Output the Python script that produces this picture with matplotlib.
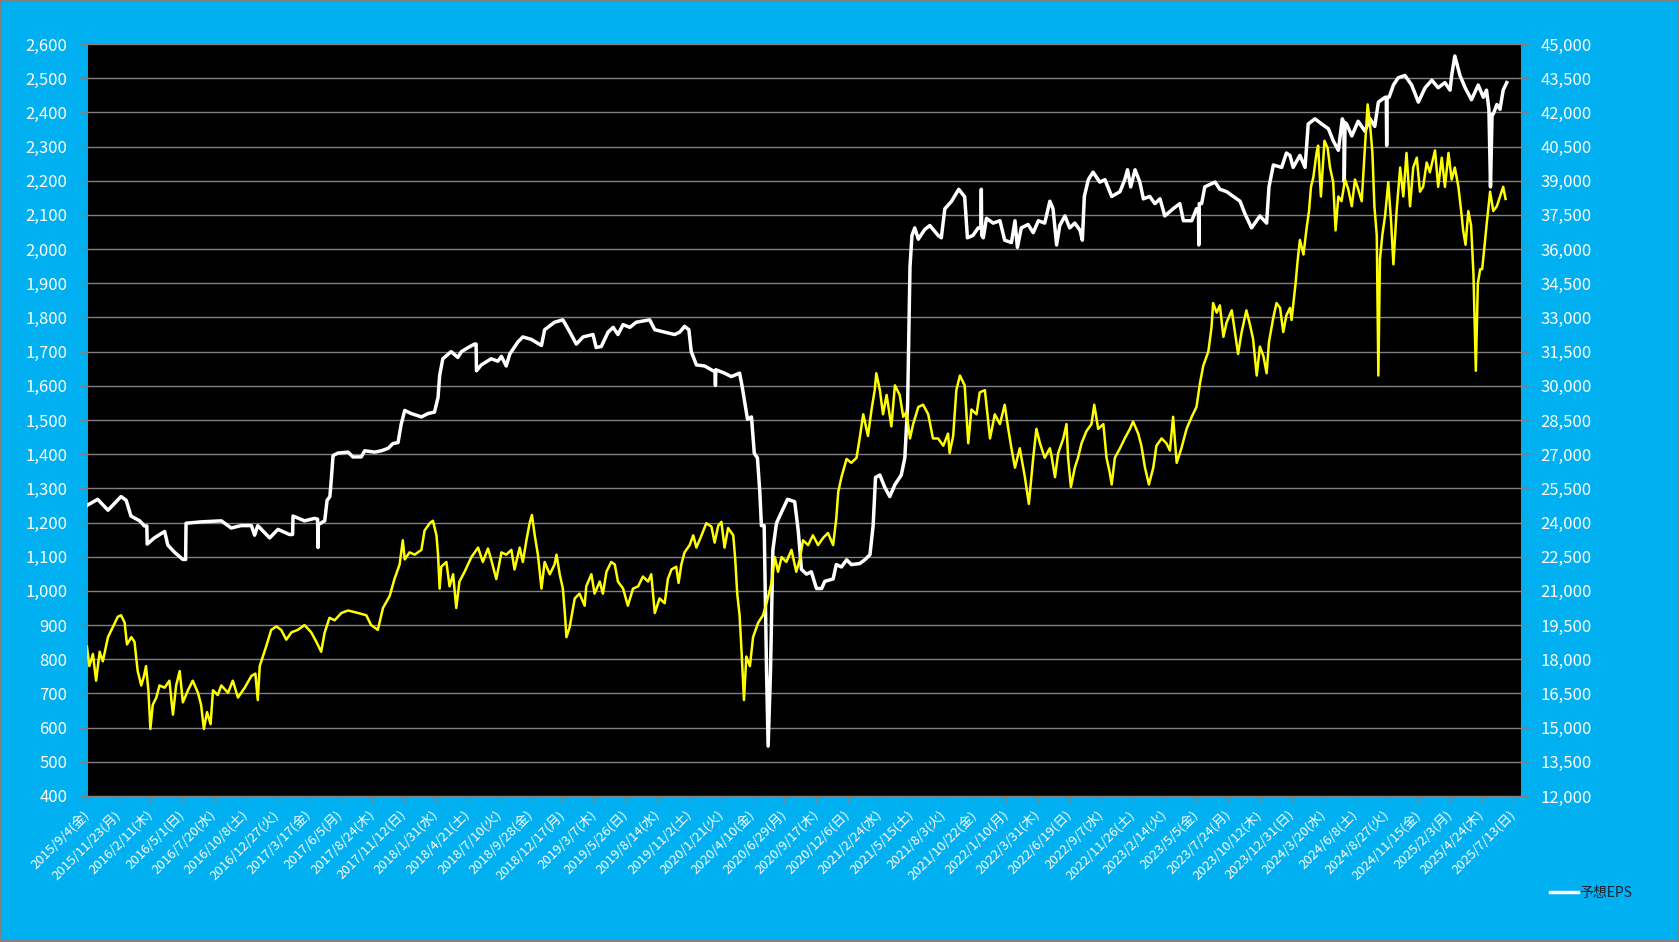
import numpy as np
import pandas as pd
import matplotlib
matplotlib.use("Agg")
import matplotlib.pyplot as plt
from matplotlib.ticker import FuncFormatter, MultipleLocator
from matplotlib.lines import Line2D

plt.rcParams['font.family'] = ['Noto Sans CJK JP', 'DejaVu Sans']

START = pd.Timestamp('2015-09-04')
WEEKDAYS = '月火水木金土日'

# (days since 2015/9/4, forecast EPS) - left axis
eps = [
    (0, 1250), (27, 1268), (53, 1236), (86, 1276), (99, 1265), (111, 1219),
    (133, 1205), (145, 1190), (151, 1190), (152, 1137), (170, 1155), (196, 1174),
    (204, 1134), (221, 1113), (242, 1092), (249, 1092), (250, 1198), (288, 1202),
    (339, 1205), (364, 1184), (389, 1191), (415, 1191), (423, 1163), (431, 1191),
    (461, 1155), (482, 1180), (511, 1165), (519, 1165), (520, 1219), (549, 1205),
    (574, 1212), (582, 1210), (583, 1127), (584, 1194), (600, 1205), (606, 1265),
    (613, 1276), (617, 1332), (621, 1396), (633, 1403), (659, 1406), (671, 1392),
    (692, 1392), (701, 1410), (726, 1406), (743, 1410), (760, 1417), (772, 1431),
    (785, 1434), (793, 1488), (802, 1528), (818, 1519), (844, 1509), (861, 1519),
    (877, 1523), (886, 1566), (890, 1630), (898, 1679), (919, 1700), (936, 1683),
    (945, 1700), (962, 1712), (978, 1722), (982, 1722), (983, 1644), (995, 1661),
    (1020, 1679), (1037, 1672), (1046, 1686), (1058, 1658), (1067, 1693), (1088, 1729),
    (1100, 1743), (1121, 1736), (1147, 1718), (1155, 1764), (1180, 1786), (1201, 1793),
    (1210, 1775), (1222, 1750), (1235, 1722), (1252, 1743), (1277, 1750), (1285, 1712),
    (1298, 1715), (1315, 1757), (1328, 1771), (1340, 1750), (1353, 1779), (1370, 1771),
    (1386, 1786), (1420, 1793), (1433, 1764), (1458, 1757), (1483, 1750), (1496, 1757),
    (1508, 1774), (1519, 1764), (1525, 1700), (1538, 1661), (1559, 1658), (1580, 1644),
    (1585, 1644), (1586, 1601), (1587, 1647), (1609, 1637), (1626, 1627), (1647, 1637),
    (1653, 1601), (1660, 1552), (1667, 1502), (1677, 1509), (1684, 1403), (1692, 1389),
    (1698, 1290), (1702, 1191), (1709, 1191), (1715, 766), (1719, 546), (1725, 766),
    (1731, 1120), (1740, 1198), (1751, 1226), (1768, 1268), (1786, 1261), (1795, 1176),
    (1803, 1063), (1816, 1049), (1828, 1056), (1841, 1007), (1854, 1007), (1862, 1028),
    (1883, 1035), (1891, 1077), (1904, 1070), (1917, 1091), (1929, 1077), (1950, 1080),
    (1963, 1091), (1976, 1106), (1984, 1191), (1990, 1332), (2001, 1339), (2013, 1304),
    (2026, 1276), (2039, 1311), (2055, 1339), (2064, 1389), (2071, 1544), (2077, 1948),
    (2082, 2040), (2089, 2062), (2098, 2029), (2114, 2057), (2127, 2069), (2148, 2040),
    (2156, 2033), (2165, 2118), (2182, 2140), (2200, 2175), (2215, 2153), (2222, 2033),
    (2236, 2040), (2249, 2062), (2256, 2062), (2257, 2175), (2258, 2040), (2262, 2033),
    (2270, 2090), (2287, 2076), (2304, 2083), (2316, 2026), (2333, 2019), (2342, 2083),
    (2348, 2005), (2358, 2062), (2375, 2072), (2388, 2048), (2401, 2083), (2417, 2076),
    (2430, 2140), (2438, 2118), (2447, 2012), (2455, 2069), (2468, 2097), (2480, 2062),
    (2493, 2076), (2506, 2055), (2512, 2026), (2517, 2154), (2527, 2203), (2539, 2225),
    (2556, 2196), (2569, 2203), (2586, 2154), (2607, 2168), (2619, 2203), (2626, 2232),
    (2634, 2182), (2645, 2232), (2657, 2196), (2666, 2147), (2682, 2154), (2695, 2133),
    (2708, 2147), (2720, 2097), (2741, 2118), (2758, 2133), (2767, 2083), (2788, 2083),
    (2800, 2118), (2805, 2118), (2806, 2012), (2807, 2133), (2813, 2133), (2821, 2182),
    (2847, 2196), (2859, 2175), (2876, 2168), (2893, 2154), (2910, 2140), (2922, 2104),
    (2939, 2062), (2960, 2097), (2977, 2076), (2983, 2182), (2994, 2246), (3015, 2239),
    (3027, 2281), (3036, 2274), (3044, 2239), (3061, 2274), (3074, 2239), (3082, 2366),
    (3099, 2381), (3116, 2366), (3133, 2352), (3145, 2317), (3158, 2289), (3168, 2381),
    (3172, 2370), (3173, 2196), (3175, 2370), (3179, 2366), (3192, 2331), (3208, 2374),
    (3225, 2345), (3238, 2381), (3250, 2359), (3259, 2430), (3276, 2444), (3279, 2444),
    (3280, 2303), (3281, 2444), (3286, 2444), (3297, 2480), (3309, 2501), (3326, 2508),
    (3343, 2480), (3360, 2430), (3377, 2472), (3394, 2494), (3410, 2472), (3427, 2487),
    (3440, 2465), (3444, 2508), (3452, 2565), (3465, 2508), (3478, 2472), (3494, 2437),
    (3511, 2480), (3524, 2444), (3532, 2465), (3538, 2409), (3542, 2182), (3546, 2395),
    (3549, 2395), (3558, 2423), (3566, 2409), (3574, 2465), (3583, 2487),
]

# (days since 2015/9/4, Nikkei 225) - right axis
nikkei = [
    (0, 18550), (6, 17700), (15, 18230), (23, 17060), (32, 18330), (40, 17910),
    (53, 18970), (65, 19400), (78, 19870), (86, 19930), (95, 19610), (101, 18650),
    (112, 18970), (120, 18760), (128, 17480), (137, 16850), (144, 17270), (149, 17700),
    (155, 16640), (160, 14940), (166, 16000), (175, 16320), (183, 16850), (196, 16750),
    (208, 17060), (217, 15570), (225, 16850), (234, 17480), (242, 16110), (255, 16640),
    (267, 17060), (280, 16530), (288, 16000), (295, 14940), (303, 15680), (312, 15150),
    (318, 16640), (330, 16430), (339, 16850), (356, 16530), (368, 17060), (381, 16320),
    (398, 16750), (415, 17270), (425, 17370), (431, 16210), (436, 17700), (444, 18120),
    (452, 18550), (465, 19290), (478, 19440), (490, 19290), (503, 18860), (516, 19180),
    (532, 19290), (549, 19500), (566, 19180), (579, 18760), (591, 18330), (600, 19180),
    (612, 19820), (625, 19710), (642, 20030), (659, 20140), (684, 20030), (705, 19930),
    (717, 19500), (734, 19290), (747, 20250), (764, 20780), (776, 21520), (789, 22160),
    (797, 23220), (802, 22380), (814, 22690), (827, 22590), (844, 22800), (852, 23650),
    (865, 23970), (873, 24080), (882, 23440), (886, 22590), (890, 21100), (894, 22060),
    (907, 22270), (915, 21200), (924, 21730), (932, 20250), (940, 21410), (953, 21840),
    (970, 22480), (987, 22900), (999, 22270), (1012, 22860), (1020, 22380), (1033, 21520),
    (1046, 22690), (1058, 22590), (1071, 22800), (1079, 21940), (1092, 22900), (1100, 22270),
    (1109, 23220), (1117, 23970), (1123, 24330), (1130, 23440), (1138, 22590), (1147, 21100),
    (1155, 22270), (1168, 21730), (1180, 22160), (1185, 22590), (1193, 21730), (1201, 21100),
    (1206, 20030), (1210, 18970), (1218, 19400), (1231, 20670), (1243, 20880), (1256, 20350),
    (1260, 21200), (1273, 21730), (1281, 20880), (1294, 21410), (1302, 20880), (1311, 21840),
    (1323, 22270), (1332, 22160), (1340, 21410), (1353, 21100), (1365, 20350), (1378, 21100),
    (1391, 21200), (1403, 21630), (1416, 21410), (1424, 21730), (1433, 20030), (1445, 20670),
    (1458, 20460), (1466, 21520), (1475, 21940), (1487, 22060), (1493, 21350), (1500, 22160),
    (1508, 22690), (1521, 23010), (1530, 23440), (1538, 22900), (1551, 23440), (1563, 23970),
    (1576, 23820), (1584, 23120), (1593, 23860), (1601, 24030), (1609, 22900), (1618, 23760),
    (1631, 23440), (1636, 22380), (1641, 20880), (1647, 19930), (1652, 18330), (1658, 16210),
    (1664, 18120), (1673, 17700), (1681, 18970), (1694, 19610), (1706, 19930), (1715, 20460),
    (1727, 21310), (1736, 22480), (1744, 21840), (1753, 22480), (1765, 22270), (1778, 22800),
    (1790, 21840), (1799, 22380), (1807, 23220), (1820, 23010), (1832, 23440), (1845, 23010),
    (1858, 23330), (1870, 23540), (1883, 23010), (1891, 24180), (1896, 25350), (1904, 25990),
    (1917, 26790), (1929, 26620), (1942, 26840), (1950, 27690), (1959, 28750), (1971, 27800),
    (1980, 28960), (1988, 29810), (1992, 30550), (2001, 29810), (2009, 28750), (2018, 29600),
    (2030, 28220), (2039, 30020), (2051, 29600), (2060, 28640), (2068, 28850), (2077, 27690),
    (2085, 28320), (2098, 29070), (2110, 29170), (2123, 28750), (2135, 27690), (2148, 27690),
    (2161, 27370), (2173, 27900), (2177, 27050), (2186, 27800), (2194, 29810), (2203, 30450),
    (2215, 30020), (2224, 27480), (2232, 28960), (2245, 28750), (2253, 29710), (2266, 29810),
    (2279, 27690), (2291, 28750), (2304, 28320), (2316, 29170), (2325, 28110), (2333, 27260),
    (2342, 26410), (2354, 27260), (2367, 25990), (2377, 24820), (2388, 26840), (2396, 28110),
    (2405, 27480), (2417, 26840), (2430, 27260), (2434, 26940), (2443, 25990), (2451, 27050),
    (2464, 27690), (2472, 28320), (2476, 26840), (2483, 25560), (2493, 26410), (2501, 26840),
    (2510, 27480), (2522, 28000), (2535, 28320), (2542, 29170), (2552, 28110), (2565, 28320),
    (2573, 26840), (2581, 26200), (2586, 25670), (2594, 26840), (2607, 27260), (2619, 27690),
    (2632, 28110), (2640, 28430), (2653, 27900), (2661, 27370), (2670, 26410), (2680, 25670),
    (2691, 26410), (2699, 27370), (2712, 27690), (2724, 27480), (2733, 27160), (2741, 28640),
    (2750, 26620), (2762, 27260), (2775, 28110), (2788, 28640), (2800, 29070), (2809, 30130),
    (2817, 30870), (2830, 31510), (2838, 32570), (2842, 33630), (2851, 33210), (2859, 33530),
    (2868, 32150), (2876, 32780), (2889, 33310), (2897, 32360), (2905, 31400), (2914, 32360),
    (2926, 33310), (2935, 32680), (2943, 32040), (2952, 30450), (2960, 31720), (2969, 31300),
    (2977, 30550), (2983, 31930), (2994, 33000), (3002, 33630), (3011, 33420), (3019, 32360),
    (3027, 33100), (3036, 33420), (3040, 32890), (3044, 33530), (3050, 34480), (3055, 35440),
    (3061, 36400), (3070, 35760), (3078, 36930), (3084, 37670), (3089, 38730), (3095, 39160),
    (3103, 40220), (3107, 40540), (3114, 38310), (3123, 40750), (3131, 40430), (3137, 39580),
    (3145, 38940), (3151, 36820), (3158, 38310), (3166, 38100), (3175, 39050), (3183, 38630),
    (3192, 37880), (3200, 39050), (3208, 38630), (3217, 38100), (3225, 40430), (3232, 42350),
    (3238, 41490), (3244, 40220), (3249, 37880), (3255, 36610), (3259, 30450), (3263, 35550),
    (3269, 36610), (3276, 37460), (3284, 38940), (3291, 37250), (3297, 35330), (3305, 37670),
    (3314, 39580), (3322, 38310), (3330, 40220), (3339, 37880), (3347, 39580), (3356, 40010),
    (3364, 38520), (3372, 38730), (3381, 39800), (3389, 39370), (3402, 40330), (3410, 38730),
    (3419, 40010), (3427, 38730), (3436, 40220), (3444, 39050), (3452, 39580), (3461, 38730),
    (3468, 37670), (3473, 36820), (3479, 36190), (3486, 37670), (3493, 37040), (3499, 34900),
    (3505, 30660), (3510, 34480), (3516, 35120), (3521, 35120), (3526, 35970), (3532, 37040),
    (3541, 38520), (3549, 37670), (3558, 37880), (3566, 38310), (3574, 38730), (3580, 38200),
]

eps_days, eps_vals = np.array(eps).T
nk_days, nk_vals = np.array(nikkei).T
eps_x = START + pd.to_timedelta(eps_days, unit='D')
nk_x = START + pd.to_timedelta(nk_days, unit='D')

tick_dates = pd.date_range(START, periods=46, freq='80D')
tick_labels = [f'{d.year}/{d.month}/{d.day}({WEEKDAYS[d.weekday()]})' for d in tick_dates]

BG = '#00B0F0'
GRID = '#808080'

fig = plt.figure(figsize=(16.79, 9.42), dpi=100)
fig.patch.set_facecolor(BG)
fig.patch.set_edgecolor(GRID)
fig.patch.set_linewidth(1.5)

ax = fig.add_axes([0.0518, 0.155, 0.8541, 0.7983])
ax.set_facecolor('black')
ax2 = ax.twinx()

ax.plot(eps_x, eps_vals, color='white', lw=2.5, solid_joinstyle='round', zorder=3)
ax2.plot(nk_x, nk_vals, color='#FFFF00', lw=1.8, zorder=3)

ax.set_ylim(400, 2600)
ax2.set_ylim(12000, 45000)
ax.yaxis.set_major_locator(MultipleLocator(100))
ax2.yaxis.set_major_locator(MultipleLocator(1500))
fmt = FuncFormatter(lambda v, _: f'{int(round(v)):,}')
ax.yaxis.set_major_formatter(fmt)
ax2.yaxis.set_major_formatter(fmt)
ax.yaxis.grid(True, color=GRID, lw=1.0)
ax.set_axisbelow(True)

ax.set_xlim(START, START + pd.Timedelta(days=3619))
ax.set_xticks(tick_dates)
ax.set_xticklabels(tick_labels, rotation=45, ha='right', va='center',
                   rotation_mode='anchor', fontsize=9.5, color='white')
ax.tick_params(axis='x', color=GRID, length=4, width=1, pad=8)
ax.tick_params(axis='y', color=GRID, labelcolor='white', length=5, width=1,
               labelsize=12, pad=9)
ax2.tick_params(axis='y', color=GRID, labelcolor='white', length=5, width=1,
                labelsize=12, pad=9)

for s in ['top', 'right']:
    ax.spines[s].set_visible(False)
for s in ['top', 'left', 'bottom']:
    ax2.spines[s].set_visible(False)
ax.spines['left'].set_color(GRID)
ax.spines['bottom'].set_color(GRID)
ax2.spines['right'].set_color(GRID)

handle = Line2D([], [], color='white', lw=2.5)
fig.legend([handle], ['予想EPS'], loc='center left', bbox_to_anchor=(0.916, 0.052),
           frameon=False, handlelength=2.0, handletextpad=0.1, fontsize=10,
           labelcolor='#1c2433')

fig.savefig('out.png', dpi=100, facecolor=BG)
